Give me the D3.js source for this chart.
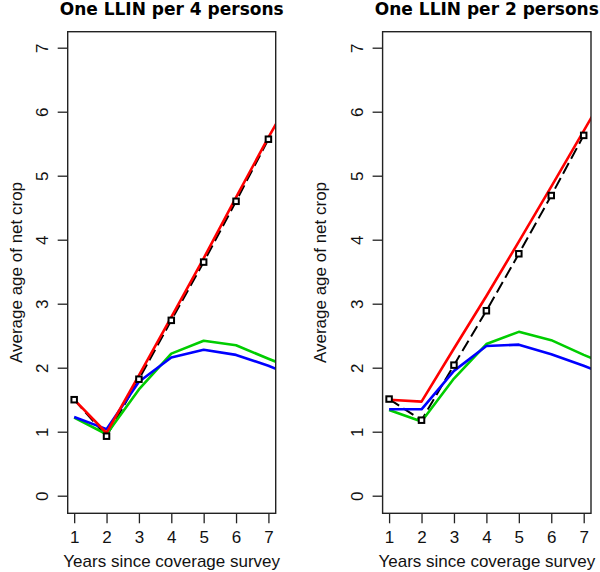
<!DOCTYPE html>
<html>
<head>
<meta charset="utf-8">
<script src="https://cdn.jsdelivr.net/npm/d3@7"></script>
<style>
  html, body { margin: 0; padding: 0; background: #fff; }
  svg { display: block; }
</style>
</head>
<body>
<div id="chart"></div>
<script>
// ---------------- data ----------------
const panelTitles = ["One LLIN per 4 persons", "One LLIN per 2 persons"];
const xTickLabels = [1, 2, 3, 4, 5, 6, 7];
const yTickLabels = [0, 1, 2, 3, 4, 5, 6, 7];
const xAxisTitle = "Years since coverage survey";
const yAxisTitle = "Average age of net crop";

// survey years for the observed (black squares) series
const obsYears = [1, 2, 3, 4, 5, 6, 7];
// model line years (lines run past the right edge of the plot box and are clipped)
const lineYears = [1, 2, 3, 4, 5, 6, 7, 7.25];

// One LLIN per 4 persons
const obs4   = [1.50, 0.93, 1.82, 2.74, 3.65, 4.60, 5.57];
const red4   = [1.50, 0.98, 1.88, 2.79, 3.71, 4.66, 5.60, 5.82];
const green4 = [1.22, 0.96, 1.66, 2.22, 2.42, 2.35, 2.14, 2.09];
const blue4  = [1.23, 1.04, 1.78, 2.16, 2.28, 2.20, 2.03, 1.98];

// One LLIN per 2 persons
const obs2   = [1.51, 1.18, 2.04, 2.89, 3.78, 4.69, 5.63];
const red2   = [1.50, 1.47, 2.30, 3.12, 3.97, 4.83, 5.70, 5.92];
const green2 = [1.34, 1.16, 1.83, 2.37, 2.56, 2.43, 2.20, 2.15];
const blue2  = [1.35, 1.35, 1.95, 2.34, 2.36, 2.21, 2.03, 1.98];

const panelData = [
  { title: panelTitles[0], obs: obs4, red: red4, green: green4, blue: blue4 },
  { title: panelTitles[1], obs: obs2, red: red2, green: green2, blue: blue2 }
];

// ---------------- layout ----------------
const W = 600, H = 572;
const layout = [
  { left: 67.7, right: 275.7, yTickBase: 48.5, yTitleBase: 21.5 },
  { left: 382.6, right: 591.0, yTickBase: 362.5, yTitleBase: 325.5 }
];
const boxTop = 31.7, boxBottom = 513.3;
const xDomain = [0.8, 7.225];
const yDomain = [-0.275, 7.25];
const colors = { red: "#ff0000", green: "#00cd00", blue: "#0000ff", obs: "#000000" };
const bodyFont = "'Liberation Sans', Arial, sans-serif";
const titleFont = "'DejaVu Sans', Verdana, sans-serif";

const svg = d3.select("#chart").append("svg")
  .attr("width", W).attr("height", H);

panelData.forEach((pd, i) => {
  const L = layout[i];
  const x = d3.scaleLinear().domain(xDomain).range([L.left, L.right]);
  const y = d3.scaleLinear().domain(yDomain).range([boxBottom, boxTop]);
  const g = svg.append("g");

  const clipId = "clip" + i;
  svg.append("clipPath").attr("id", clipId)
    .append("rect")
    .attr("x", L.left).attr("y", boxTop)
    .attr("width", L.right - L.left).attr("height", boxBottom - boxTop);

  // axes
  const xAxis = d3.axisBottom(x).tickValues(xTickLabels).tickSize(10).tickPadding(8)
    .tickFormat(d3.format("d"));
  const gx = g.append("g").attr("transform", `translate(0,${boxBottom})`).call(xAxis);
  gx.attr("font-family", null).attr("font-size", null);
  gx.select(".domain").remove();
  gx.selectAll("line").attr("stroke", "#222").attr("stroke-width", 1.3);
  gx.selectAll("text")
    .style("font-family", bodyFont).style("font-size", "17px").attr("fill", "#111")
    .attr("dy", null).attr("y", 29.3);

  const yAxis = d3.axisLeft(y).tickValues(yTickLabels).tickSize(10).tickFormat(d3.format("d"));
  const gy = g.append("g").attr("transform", `translate(${L.left},0)`).call(yAxis);
  gy.attr("font-family", null).attr("font-size", null);
  gy.select(".domain").remove();
  gy.selectAll("line").attr("stroke", "#222").attr("stroke-width", 1.3);
  gy.selectAll("text")
    .style("font-family", bodyFont).style("font-size", "17px").attr("fill", "#111")
    .attr("x", null).attr("dy", null)
    .attr("text-anchor", "middle")
    .attr("transform", `translate(${L.yTickBase - L.left},0) rotate(-90)`);

  // lines
  const line = d3.line().x((d, k) => x(lineYears[k])).y(d => y(d));
  const obsLine = d3.line().x((d, k) => x(obsYears[k])).y(d => y(d));
  const lg = g.append("g").attr("clip-path", `url(#${clipId})`);

  lg.append("path").datum(pd.obs).attr("d", obsLine)
    .attr("fill", "none").attr("stroke", colors.obs).attr("stroke-width", 2)
    .attr("stroke-dasharray", "12,5");
  [["green", pd.green], ["blue", pd.blue], ["red", pd.red]].forEach(([c, arr]) => {
    lg.append("path").datum(arr).attr("d", line)
      .attr("fill", "none").attr("stroke", colors[c]).attr("stroke-width", 2.6)
      .attr("stroke-linejoin", "round");
  });

  // observed squares
  lg.selectAll("rect.obs").data(pd.obs).enter().append("rect")
    .attr("class", "obs")
    .attr("x", (d, k) => x(obsYears[k]) - 2.75)
    .attr("y", d => y(d) - 2.75)
    .attr("width", 5.5).attr("height", 5.5)
    .attr("fill", "#fff").attr("stroke", "#000").attr("stroke-width", 2);

  // box
  g.append("rect")
    .attr("x", L.left).attr("y", boxTop)
    .attr("width", L.right - L.left).attr("height", boxBottom - boxTop)
    .attr("fill", "none").attr("stroke", "#222").attr("stroke-width", 1.4);

  const cx = (L.left + L.right) / 2;
  // title
  g.append("text").text(pd.title)
    .attr("x", cx).attr("y", 15)
    .attr("text-anchor", "middle")
    .style("font-family", titleFont)
    .style("font-weight", "bold").style("font-size", "17px").attr("fill", "#000");

  // x axis title
  g.append("text").text(xAxisTitle)
    .attr("x", cx).attr("y", 567)
    .attr("text-anchor", "middle")
    .style("font-family", bodyFont).style("font-size", "17px").attr("fill", "#111");

  // y axis title
  g.append("text").text(yAxisTitle)
    .attr("transform", `translate(${L.yTitleBase},${(boxTop + boxBottom) / 2}) rotate(-90)`)
    .attr("text-anchor", "middle")
    .style("font-family", bodyFont).style("font-size", "17px").attr("fill", "#111");
});
</script>
</body>
</html>
